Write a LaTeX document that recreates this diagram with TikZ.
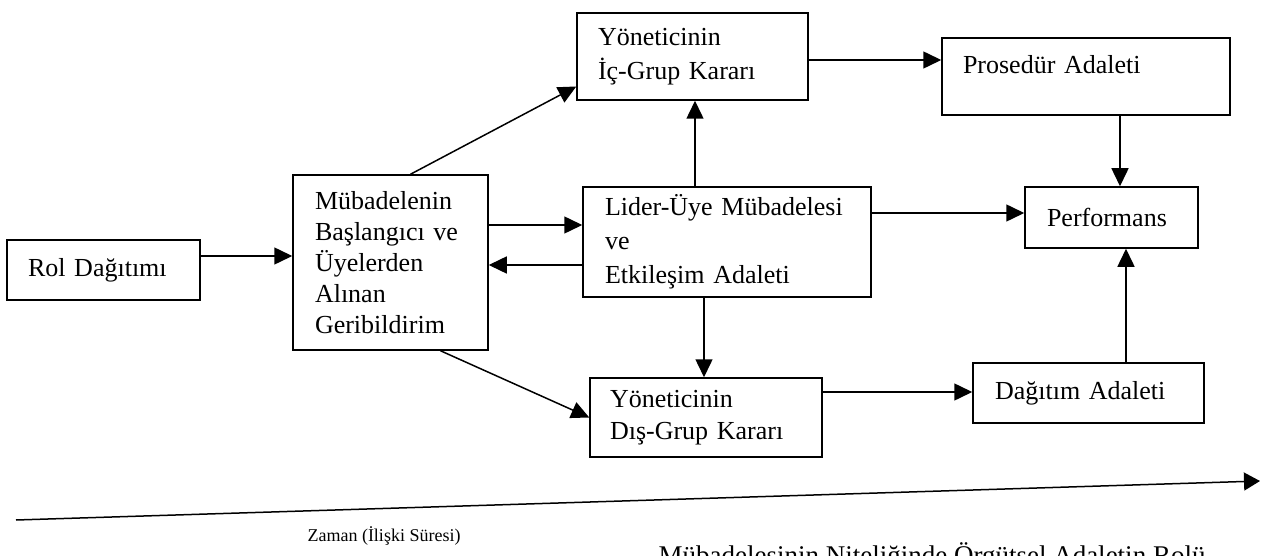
\documentclass[tikz,border=0pt]{standalone}
\usepackage{fontspec}
\setmainfont{Liberation Serif}
\usetikzlibrary{arrows.meta}
\tikzset{
  box/.style={draw, line width=1.5pt, align=left, inner ysep=0pt,
    font=\fontsize{26}{31}\selectfont},
  arr/.style={line width=1.5pt, -{Triangle[length=18pt,width=17pt]}},
}
\begin{document}
\begin{tikzpicture}[x=1pt,y=-1pt]
\useasboundingbox[fill=white] (0,0) rectangle (1261,556);
% boxes
\node[box, minimum width=193pt, minimum height=60pt, text width=151pt, inner xsep=21pt]
  (rol) at (103.5,270) {Rol Dağıtımı};
\node[box, minimum width=195pt, minimum height=175pt, text width=151pt, inner xsep=22pt]
  (mub) at (390.5,262.5) {Mübadelenin\\Başlangıcı ve\\Üyelerden\\Alınan\\Geribildirim};
\node[box, minimum width=231pt, minimum height=87pt, text width=189pt, inner xsep=21pt,
  font=\fontsize{26}{34}\selectfont]
  (yic) at (692.5,56.5) {Yöneticinin\\İç-Grup Kararı};
\node[box, minimum width=288pt, minimum height=77pt, text width=246pt, inner xsep=21pt]
  (pro) at (1086,76.5) {\raisebox{12pt}[\height][\depth]{Prosedür Adaleti}};
\node[box, minimum width=288pt, minimum height=110pt, text width=244pt, inner xsep=22pt,
  font=\fontsize{26}{34}\selectfont]
  (lid) at (727,242) {Lider-Üye Mübadelesi\\ve\\Etkileşim Adaleti};
\node[box, minimum width=173pt, minimum height=61pt, text width=129pt, inner xsep=22pt]
  (per) at (1111.5,217.5) {Performans};
\node[box, minimum width=232pt, minimum height=79pt, text width=192pt, inner xsep=20pt,
  font=\fontsize{26}{32}\selectfont]
  (dis) at (706,417.5) {Yöneticinin\\Dış-Grup Kararı};
\node[box, minimum width=231pt, minimum height=60pt, text width=187pt, inner xsep=22pt]
  (dag) at (1088.5,393) {Dağıtım Adaleti};
% connectors
\draw[arr] ([yshift=14pt]rol.east) -- ([yshift=14pt]rol.east -| mub.west);
\draw[arr] ([xshift=20pt]mub.north) -- ([yshift=-30pt]yic.west);
\draw[arr] ([yshift=37.5pt]mub.east) -- ([yshift=37.5pt]mub.east -| lid.west);
\draw[arr] ([yshift=-23pt]lid.west) -- ([yshift=-23pt]lid.west -| mub.east);
\draw[arr] ([xshift=50pt]mub.south) -- (dis.west);
\draw[arr] ([xshift=-32pt]lid.north) -- ([xshift=-32pt]lid.north |- yic.south);
\draw[arr] ([yshift=-3.5pt]yic.east) -- ([yshift=-3.5pt]yic.east -| pro.west);
\draw[arr] ([yshift=29pt]lid.east) -- ([yshift=29pt]lid.east -| per.west);
\draw[arr] ([xshift=34pt]pro.south) -- ([xshift=34pt]pro.south |- per.north);
\draw[arr] ([xshift=-23pt]lid.south) -- ([xshift=-23pt]lid.south |- dis.north);
\draw[arr] ([yshift=25.5pt]dis.east) -- ([yshift=25.5pt]dis.east -| dag.west);
\draw[arr] ([xshift=37.5pt]dag.north) -- ([xshift=37.5pt]dag.north |- per.south);
% time axis
\coordinate (t0) at (16,520);
\coordinate (t1) at (1260,481);
\draw[line width=1.5pt, -{Triangle[length=16pt,width=18pt]}] (t0) -- (t1);
\node[font=\fontsize{18}{21}\selectfont, anchor=base] (zaman) at (384,541) {Zaman (İlişki Süresi)};
\node[font=\fontsize{27}{32}\selectfont, anchor=base east] (capt) at (1209,564)
  {Mübadelesinin Niteliğinde Örgütsel Adaletin Rolü};
\end{tikzpicture}
\end{document}
